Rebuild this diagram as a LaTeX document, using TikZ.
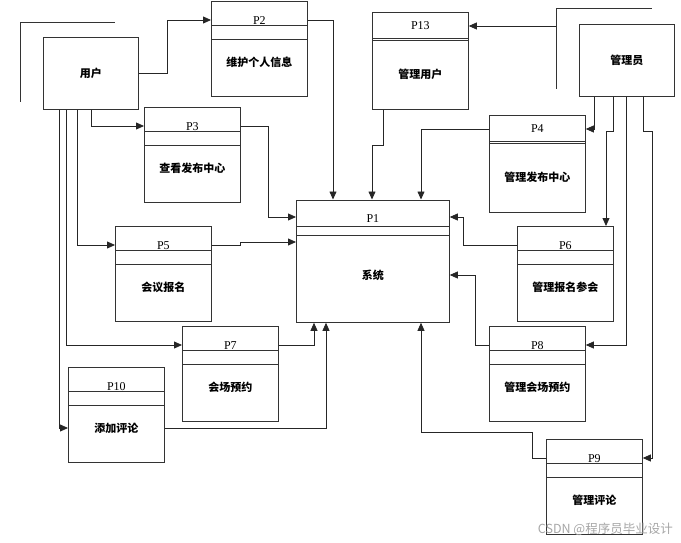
\documentclass[tikz,border=0pt]{standalone}
\usepackage{fontspec}
\setmainfont{Liberation Serif}
\newfontfamily\cjk{Noto Sans CJK SC}
\usetikzlibrary{arrows.meta}

\tikzset{
	box/.style={draw=black!80,line width=0.8pt,minimum width=96pt,minimum height=95pt,inner sep=0pt,anchor=north west},
	ext/.style={box,minimum width=95pt,minimum height=72pt,font=\cjk\bfseries\fontsize{11}{11}\selectfont},
	pid/.style={font=\fontsize{12}{12}\selectfont,anchor=base,inner sep=0pt},
	ptext/.style={font=\cjk\bfseries\fontsize{11}{11}\selectfont,inner sep=0pt},
	band/.style={draw=black!80,line width=0.8pt},
	flow/.style={draw=black!85,line width=0.8pt,-{Triangle[length=8pt,width=7pt]}}
}

% process box: name, corner, number, text
\newcommand{\procbox}[4]{%
	\node[box] (#1) at #2 {};
	\draw[band] ([yshift=-24pt]#1.north west) -- ([yshift=-24pt]#1.north east)
		([yshift=-38pt]#1.north west) -- ([yshift=-38pt]#1.north east);
	\node[pid] (#1-id) at ([yshift=-23.5pt]#1.north) {#3};
	\coordinate (#1-port) at ([yshift=-19pt]#1.north);
	\node[ptext] (#1-text) at ([yshift=-61pt]#1.north) {#4};
}
% process box with thin double band
\newcommand{\mgrbox}[4]{%
	\node[box,minimum height=97pt] (#1) at #2 {};
	\draw[band] ([yshift=-26pt]#1.north west) -- ([yshift=-26pt]#1.north east)
		([yshift=-28pt]#1.north west) -- ([yshift=-28pt]#1.north east);
	\node[pid,anchor=center] (#1-id) at ([yshift=-14pt]#1.north) {#3};
	\coordinate (#1-port) at ([yshift=-14pt]#1.north);
	\node[ptext] (#1-text) at ([yshift=-62pt]#1.north) {#4};
}

\begin{document}
\begin{tikzpicture}[x=1pt,y=-1pt]
	\useasboundingbox (0,0) rectangle (681,543);

	% external entities
	\node[ext] (user) at (43,37) {用户};
	\node[ext] (admin) at (579,24) {管理员};
	\draw[band] (20,102) -- (20,22) -- (115,22);
	\draw[band] (556,89) -- (556,8) -- (652,8);
	\coordinate (admin-br) at (556,26);

	% central process
	\node[box,minimum width=153pt,minimum height=122.5pt] (p1) at (296,199.5) {};
	\draw[band] ([yshift=-26.5pt]p1.north west) -- ([yshift=-26.5pt]p1.north east)
		([yshift=-35.5pt]p1.north west) -- ([yshift=-35.5pt]p1.north east);
	\node[pid] (p1-id) at ([yshift=-22.5pt]p1.north) {P1};
	\coordinate (p1-port) at ([yshift=-17.5pt]p1.north);
	\node[ptext] (p1-text) at ([yshift=-75.5pt]p1.north) {系统};

	% user side
	\procbox{p2}{(211,1)}{P2}{维护个人信息}
	\procbox{p3}{(144,107)}{P3}{查看发布中心}
	\procbox{p5}{(115,226)}{P5}{会议报名}
	\procbox{p7}{(182,326)}{P7}{会场预约}
	\procbox{p10}{(68,367)}{P10}{添加评论}

	% admin side
	\mgrbox{p13}{(372,12)}{P13}{管理用户}
	\mgrbox{p4}{(489,115)}{P4}{管理发布中心}
	\procbox{p6}{(517,226)}{P6}{管理报名参会}
	\procbox{p8}{(489,326)}{P8}{管理会场预约}
	\procbox{p9}{(546,439)}{P9}{管理评论}

	% user flows
	\draw[flow] (user.east) -- ++(29,0) |- (p2.west |- p2-port);
	\draw[flow] (user.south) |- (p3.west |- p3-port);
	\draw[flow] ([xshift=-13.5pt]user.south) |- (p5.west |- p5-port);
	\draw[flow] ([xshift=-24.5pt]user.south) |- (p7.west |- p7-port);
	\draw[flow] ([xshift=-32pt]user.south) |- (p10.west |- p10-text);

	\draw[flow] (p2.east |- p2-port) -| ([xshift=37pt]p1.north west);
	\draw[flow] (p3.east |- p3-port) -- ++(28,0) |- (p1.west |- p1-port);
	\draw[flow] (p5.east |- p5-port) -- ++(29,0) -- ++(0,-3) -- ([yshift=-42.5pt]p1.north west);
	\draw[flow] (p7.east |- p7-port) -| ([xshift=18pt]p1.south west);
	\draw[flow] (p10.east |- p10-text) -| ([xshift=30pt]p1.south west);

	% admin flows
	\draw[flow] (admin-br) -- (p13.east |- p13-port);
	\draw[flow] ([xshift=15pt]admin.south west) |- (p4.east |- p4-port);
	\draw[flow] ([xshift=34pt]admin.south west) -- ++(0,35) -| ([xshift=89pt]p6.north west);
	\draw[flow] ([xshift=47pt]admin.south west) |- (p8.east |- p8-port);
	\draw[flow] ([xshift=64pt]admin.south west) -- ++(0,35) -- ++(9,0) |- (p9.east |- p9-port);

	\draw[flow] ([xshift=11pt]p13.south west) -- ++(0,36) -| ([xshift=76pt]p1.north west);
	\draw[flow] (p4.west |- p4-port) -| ([xshift=125pt]p1.north west);
	\draw[flow] (p6.west |- p6-port) -- ++(-54,0) |- (p1.east |- p1-port);
	\draw[flow] (p8.west |- p8-port) -- ++(-14,0) |- (p1.east |- p1-text);
	\draw[flow] (p9.west |- p9-port) -- ++(-14,0) -- ++(0,-26) -| ([xshift=125pt]p1.south west);

	% watermark
	\node[text=black!35,font=\cjk\fontsize{12.5}{12.5}\selectfont,anchor=east,inner sep=0pt] (mark) at (673,529) {CSDN @程序员毕业设计};
\end{tikzpicture}
\end{document}
